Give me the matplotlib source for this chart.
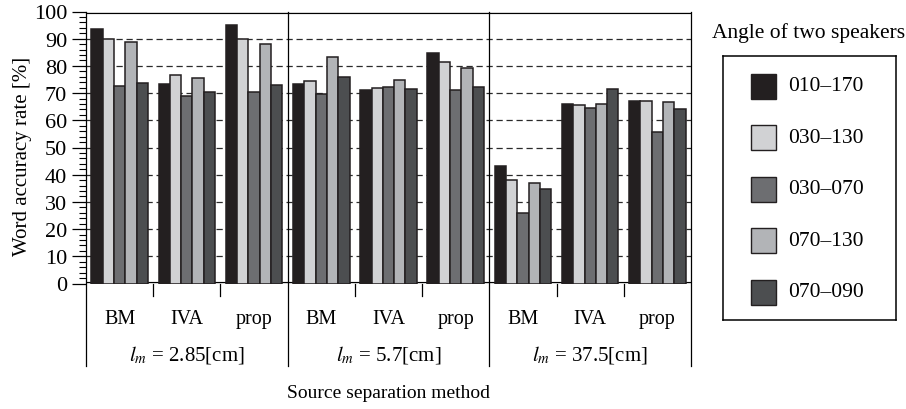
import matplotlib
matplotlib.use("Agg")
import matplotlib.pyplot as plt
from matplotlib.patches import Rectangle
import numpy as np

plt.rcParams["font.family"] = ["Liberation Serif", "DejaVu Serif"]
plt.rcParams["mathtext.fontset"] = "stix"

# data
methods = ["BM", "IVA", "prop"]
spacings = ["2.85", "5.7", "37.5"]
angles = ["010\u2013170", "030\u2013130", "030\u2013070", "070\u2013130", "070\u2013090"]

# word accuracy [%] per angle, ordered BM/IVA/prop for each spacing
acc_010_170 = [93.6, 73.4, 95.0, 73.4, 71.0, 84.8, 43.2, 65.9, 67.0]
acc_030_130 = [89.8, 76.7, 90.0, 74.3, 72.0, 81.3, 38.2, 65.7, 67.1]
acc_030_070 = [72.5, 68.8, 70.5, 69.7, 72.4, 71.3, 25.8, 64.7, 55.6]
acc_070_130 = [88.7, 75.7, 88.2, 83.3, 74.7, 79.1, 36.9, 66.1, 66.9]
acc_070_090 = [73.8, 70.3, 72.9, 75.9, 71.5, 72.1, 34.7, 71.6, 64.3]

series = [acc_010_170, acc_030_130, acc_030_070, acc_070_130, acc_070_090]
colors = ["#231f20", "#d1d2d4", "#6d6e71", "#b2b4b7", "#4c4e50"]
edge = "#231f20"

W, H = 906, 410
fig = plt.figure(figsize=(W / 100, H / 100), dpi=100)
ax = fig.add_axes([86 / W, 1 - 284.5 / H, 605 / W, 272 / H])

n_sub = len(methods) * len(spacings)
x = np.arange(n_sub) + 0.5
bw = 0.168
for j, (vals, c) in enumerate(zip(series, colors)):
    ax.bar(x + (j - 2) * bw, vals, width=bw, color=c, edgecolor=edge,
           linewidth=1.1, zorder=3)

ax.set_xlim(0, n_sub)
ax.set_ylim(0, 100)

# dashed grid behind bars
for g in range(10, 100, 10):
    ax.axhline(g, color="#2a2a2a", lw=0.9, ls=(0, (5, 3)), zorder=1)

# double lines at top and bottom
for yv in (0, 100):
    ax.axhline(yv, color="black", lw=3.0, zorder=2)
    ax.axhline(yv, color="white", lw=1.2, zorder=2)

for s in ax.spines.values():
    s.set_visible(False)

# frame and separators extending below the axis
y_low = -30.3
for xv in (0, 3, 6, 9):
    ax.plot([xv, xv], [y_low, 100], color="black", lw=0.9, clip_on=False, zorder=4)
for xv in (1, 2, 4, 5, 7, 8):
    ax.plot([xv, xv], [-4.6, 0], color="black", lw=0.9, clip_on=False, zorder=4)

ax.set_xticks([])
ax.set_yticks(np.arange(0, 101, 10))
ax.set_yticks(np.arange(0, 101, 2), minor=True)
ax.tick_params(axis="y", which="major", direction="out", length=10, width=0.9,
               pad=3.5, labelsize=16)
ax.tick_params(axis="y", which="minor", direction="out", length=5, width=0.8)

for i in range(n_sub):
    ax.text(x[i], -12.7, methods[i % 3], ha="center", va="center", fontsize=14.5)
for k, sp in enumerate(spacings):
    ax.text(3 * k + 1.5, -25.9, r"$l_m$ = " + sp + "[cm]", ha="center",
            va="center", fontsize=15)
ax.text(4.5, -39.9, "Source separation method", ha="center", va="center",
        fontsize=14)

ax.set_ylabel("Word accuracy rate [%]", fontsize=15)
ax.yaxis.set_label_coords(-0.09, 0.47)

# legend drawn in its own box
fig.text(809 / W, 1 - 33 / H, "Angle of two speakers", ha="center",
         va="center", fontsize=15.5)
lax = fig.add_axes([723 / W, 1 - 321 / H, 173 / W, 264 / H])
lax.set_xlim(0, 173)
lax.set_ylim(264, 0)
lax.set_xticks([])
lax.set_yticks([])
for s in lax.spines.values():
    s.set_linewidth(1.1)
for i, (lab, c) in enumerate(zip(angles, colors)):
    cy = 30 + 51.5 * i
    lax.add_patch(Rectangle((28, cy - 12.5), 25, 25, facecolor=c,
                            edgecolor=edge, lw=1.0))
    lax.text(65, cy, lab, va="center", ha="left", fontsize=15.5)

fig.savefig("out.png", dpi=100)
